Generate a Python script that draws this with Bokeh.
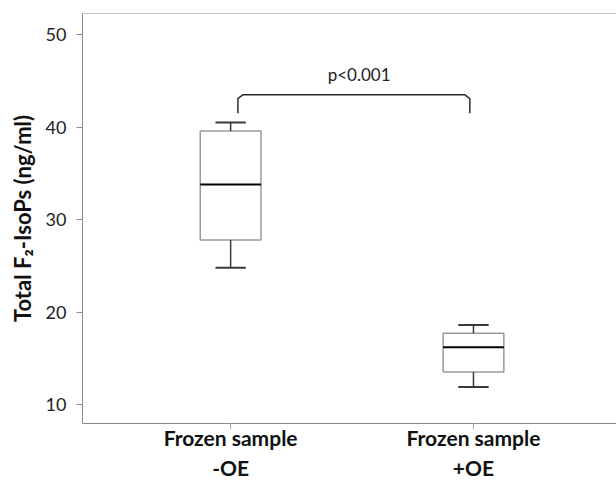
from bokeh.plotting import figure
from bokeh.models import Range1d, FixedTicker, Span
from bokeh.embed import file_html
from bokeh.resources import INLINE
from bokeh.core.properties import value

# ---- data ----
groups = ["Frozen sample\n-OE", "Frozen sample\n+OE"]
positions = [1, 2]
lower_whisker = [24.8, 11.9]
q1 = [27.8, 13.5]
median = [33.8, 16.2]
q3 = [39.6, 17.7]
upper_whisker = [40.5, 18.6]
y_ticks = [10, 20, 30, 40, 50]
p_label = "p<0.001"
bracket_x = [1.03, 1.03, 1.05, 1.965, 1.985, 1.985]
bracket_y = [41.5, 43.1, 43.5, 43.5, 43.1, 41.5]

FONT = "Lato"
box_w = 0.25
cap_w = 0.125
Y0, Y1 = 7.94, 52.3

p = figure(width=616, height=482, output_backend="svg", toolbar_location=None,
           x_range=Range1d(0.39, 2.589), y_range=Range1d(Y0, Y1),
           min_border_left=82, min_border_right=0, min_border_top=13, min_border_bottom=40)
p.outline_line_color = None
p.border_fill_color = None
p.background_fill_color = None
p.grid.visible = False

# boxes
p.vbar(x=positions, bottom=q1, top=q3, width=box_w, fill_color="white",
       line_color="#9a9a9a", line_width=1.5)
# whiskers
p.segment(x0=positions, y0=q3, x1=positions, y1=upper_whisker, line_color="#3a3a3a", line_width=1.5)
p.segment(x0=positions, y0=q1, x1=positions, y1=lower_whisker, line_color="#3a3a3a", line_width=1.5)
p.segment(x0=[x - cap_w / 2 for x in positions], y0=upper_whisker,
          x1=[x + cap_w / 2 for x in positions], y1=upper_whisker, line_color="#3a3a3a", line_width=2)
p.segment(x0=[x - cap_w / 2 for x in positions], y0=lower_whisker,
          x1=[x + cap_w / 2 for x in positions], y1=lower_whisker, line_color="#3a3a3a", line_width=2)
# medians
p.segment(x0=[x - box_w / 2 for x in positions], y0=median,
          x1=[x + box_w / 2 for x in positions], y1=median, line_color="black", line_width=2)

# significance bracket
p.line(bracket_x, bracket_y, line_color="#2a2a2a", line_width=1.5)
p.text(x=[1.529], y=[45.7], text=[p_label],
       text_font=value(FONT), text_font_size="17px", text_align="center",
       text_baseline="alphabetic", text_color="#222222")

# axes
ax_col = "#8a8a8a"
p.yaxis.ticker = FixedTicker(ticks=y_ticks)
p.yaxis.minor_tick_line_color = None
p.yaxis.major_tick_out = 6
p.yaxis.major_tick_in = 0
p.yaxis.axis_line_color = ax_col
p.yaxis.major_tick_line_color = ax_col
p.yaxis.major_label_text_font = FONT
p.yaxis.major_label_text_font_size = "18px"
p.yaxis.major_label_text_color = "#222222"
p.yaxis.major_label_standoff = 10
p.yaxis.axis_label = "Total F\u2082-IsoPs (ng/ml)"
p.yaxis.axis_label_text_font = FONT
p.yaxis.axis_label_text_font_style = "bold"
p.yaxis.axis_label_text_font_size = "22px"
p.yaxis.axis_label_text_color = "#111111"
p.yaxis.axis_label_standoff = 7

p.xaxis.ticker = FixedTicker(ticks=positions)
p.xaxis.major_label_overrides = {pos: g for pos, g in zip(positions, groups)}
p.xaxis.minor_tick_line_color = None
p.xaxis.major_tick_out = 0
p.xaxis.major_tick_in = -6
p.xaxis.axis_line_color = ax_col
p.xaxis.major_tick_line_color = "#a0a0a0"
p.xaxis.major_label_text_font = FONT
p.xaxis.major_label_text_font_style = "bold"
p.xaxis.major_label_text_font_size = "21px"
p.xaxis.major_label_text_color = "#111111"
p.xaxis.major_label_standoff = 1

# top frame line
p.add_layout(Span(location=Y1, dimension="width", line_color=ax_col, line_width=1))

open("out.html", "w").write(file_html(p, INLINE))
